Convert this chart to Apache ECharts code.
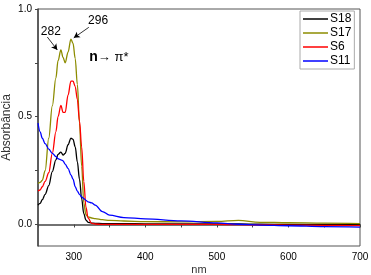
<!DOCTYPE html>
<html>
<head>
<meta charset="utf-8">
<script src="https://cdn.jsdelivr.net/npm/echarts@6/dist/echarts.min.js"></script>
<style>
  html, body { margin: 0; padding: 0; background: #fff; }
  #chart { width: 371px; height: 275px; }
</style>
</head>
<body>
<div id="chart"></div>
<script>
// wavelength grid (nm) shared by all spectra
const wavelengths = [250, 253, 256, 260, 265, 270, 275, 278, 282, 285, 288, 292, 296, 299, 302, 305, 308, 311, 314, 317, 320, 325, 330, 340, 350, 370, 400, 450, 500, 530, 560, 600, 650, 700];

const s18 = [0.09, 0.098, 0.115, 0.14, 0.18, 0.245, 0.3, 0.325, 0.336, 0.322, 0.33, 0.37, 0.4, 0.395, 0.36, 0.29, 0.21, 0.12, 0.05, 0.02, 0.01, 0.006, 0.005, 0.004, 0.004, 0.004, 0.003, 0.003, 0.002, 0.002, 0.001, 0.0, 0.0, -0.001];
const s17 = [0.19, 0.195, 0.205, 0.25, 0.4, 0.55, 0.68, 0.76, 0.81, 0.775, 0.75, 0.8, 0.86, 0.84, 0.77, 0.65, 0.47, 0.27, 0.1, 0.045, 0.035, 0.03, 0.027, 0.022, 0.019, 0.016, 0.013, 0.012, 0.014, 0.019, 0.01, 0.008, 0.006, 0.004];
const s6 = [0.155, 0.16, 0.175, 0.2, 0.24, 0.33, 0.43, 0.5, 0.553, 0.52, 0.52, 0.6, 0.665, 0.665, 0.64, 0.58, 0.48, 0.36, 0.2, 0.08, 0.03, 0.005, 0.002, 0.0, 0.0, 0.0, 0.0, 0.0, 0.0, -0.001, -0.002, -0.003, -0.004, -0.005];
const s11 = [0.47, 0.43, 0.4, 0.375, 0.35, 0.33, 0.315, 0.305, 0.3, 0.295, 0.28, 0.26, 0.23, 0.21, 0.175, 0.155, 0.14, 0.128, 0.12, 0.112, 0.105, 0.1, 0.09, 0.06, 0.043, 0.032, 0.026, 0.017, 0.007, 0.001, -0.003, -0.006, -0.01, -0.012];

const seriesNames = ['S18', 'S17', 'S6', 'S11'];
const seriesColors = ['#000000', '#8c8c00', '#ff0000', '#0000ff'];
const seriesValues = [s18, s17, s6, s11];

const xLabels = [300, 400, 500, 600, 700];
const yLabels = [0, 0.5, 1.0];

const chart = echarts.init(document.getElementById('chart'));
const font = 'Liberation Sans, Arial, sans-serif';

const series = seriesNames.map((name, i) => ({
  name,
  type: 'line',
  smooth: 0.35,
  smoothMonotone: 'x',
  symbol: 'none',
  lineStyle: { color: seriesColors[i], width: 1.3 },
  itemStyle: { color: seriesColors[i] },
  data: wavelengths.map((w, k) => [w, seriesValues[i][k]])
}));

// peak arrows and texts, placed in data space on the S17 series
series[1].markLine = {
  silent: true,
  symbol: ['none', 'arrow'],
  symbolSize: [5, 6],
  lineStyle: { color: '#000', width: 0.8, type: 'solid' },
  label: { show: false },
  data: [
    [{ coord: [263, 0.87] }, { coord: [277, 0.81] }],
    [{ coord: [321, 0.915] }, { coord: [300, 0.866] }]
  ]
};
series[1].markPoint = {
  silent: true,
  symbol: 'circle',
  symbolSize: 1,
  itemStyle: { color: 'rgba(0,0,0,0)' },
  label: { show: true, position: 'inside', color: '#000', fontSize: 12, fontFamily: font },
  data: [
    { coord: [268, 0.893], label: { formatter: '282' } },
    { coord: [334, 0.944], label: { formatter: '296' } },
    {
      coord: [349, 0.777],
      label: {
        formatter: '{b|n}{a|\u2192 \u03c0*}',
        rich: {
          b: { fontWeight: 'bold', fontSize: 14, color: '#000', fontFamily: font },
          a: { fontSize: 13, color: '#000', fontFamily: font }
        }
      }
    }
  ]
};

chart.setOption({
  animation: false,
  backgroundColor: '#fff',
  textStyle: { fontFamily: font },
  grid: {
    left: 38, right: 11, top: 9, bottom: 29,
    outerBoundsMode: 'none',
    containLabel: false,
    show: true, borderColor: '#555', borderWidth: 1
  },
  legend: {
    orient: 'vertical',
    left: 300,
    top: 11,
    data: seriesNames,
    icon: 'rect',
    itemWidth: 25,
    itemHeight: 1.5,
    itemGap: 2,
    padding: [2, 3, 2, 3],
    borderColor: '#aaa',
    borderWidth: 1,
    textStyle: { fontSize: 12, color: '#000', fontFamily: font, padding: [0, 0, 0, -3] }
  },
  xAxis: {
    type: 'value',
    min: 250,
    max: 700,
    interval: 50,
    name: 'nm',
    nameLocation: 'middle',
    nameGap: 18,
    nameMoveOverlap: false,
    nameTextStyle: { fontSize: 11, color: '#333' },
    axisLine: { lineStyle: { color: '#444', width: 1.5 } },
    axisTick: { inside: false, length: 3, lineStyle: { color: '#444' } },
    axisLabel: { customValues: xLabels, fontSize: 10, color: '#000', margin: 6 },
    splitLine: { show: false }
  },
  yAxis: {
    type: 'value',
    min: -0.1,
    max: 1.0,
    name: 'Absorbância',
    nameLocation: 'middle',
    nameGap: 25,
    nameMoveOverlap: false,
    nameTextStyle: { fontSize: 12, color: '#333' },
    axisLine: { lineStyle: { color: '#444', width: 1.5 } },
    axisTick: { customValues: [0, 0.25, 0.5, 0.75, 1.0], length: 3, lineStyle: { color: '#444' } },
    axisLabel: { customValues: yLabels, fontSize: 10, color: '#000', margin: 6, formatter: v => v.toFixed(1) },
    splitLine: { show: false }
  },
  series
});
</script>
</body>
</html>
